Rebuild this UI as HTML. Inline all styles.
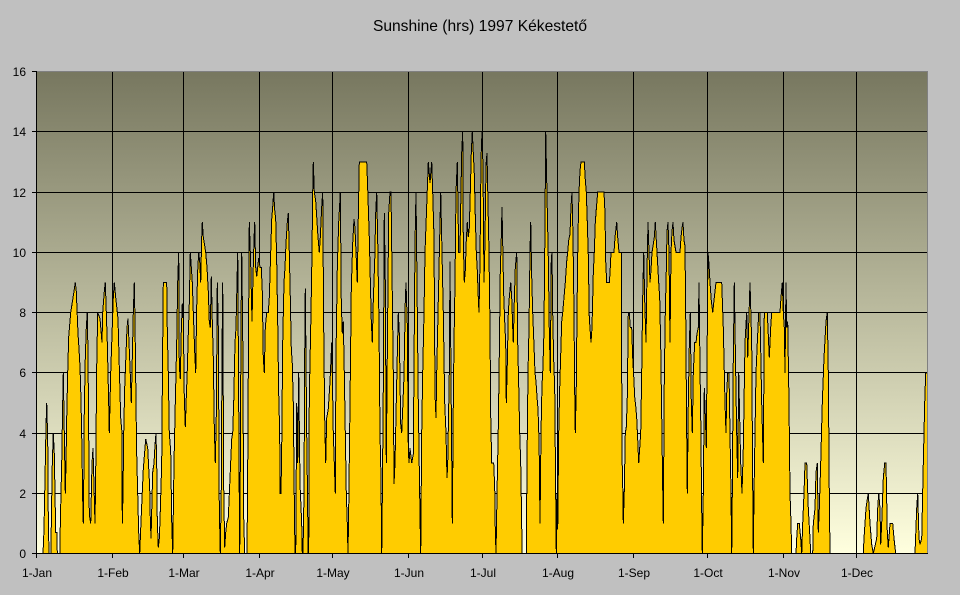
<!DOCTYPE html>
<html>
<head>
<meta charset="utf-8">
<style>
html,body{margin:0;padding:0;background:#C0C0C0;}
svg{display:block;}
text{font-family:"Liberation Sans",Arial,sans-serif;fill:#000;}
</style>
</head>
<body>
<svg width="960" height="595" viewBox="0 0 960 595" xmlns="http://www.w3.org/2000/svg">
<defs>
<linearGradient id="bg" x1="0" y1="0" x2="0" y2="1">
<stop offset="0" stop-color="#77775F"/>
<stop offset="1" stop-color="#FFFFDE"/>
</linearGradient>
<clipPath id="pc"><rect x="37" y="71" width="890.5" height="483"/></clipPath>
</defs>
<rect x="0" y="0" width="960" height="595" fill="#C0C0C0"/>
<text x="480" y="31" font-size="15.6" text-anchor="middle">Sunshine (hrs) 1997 Kékestető</text>
<rect x="37" y="71" width="890.5" height="482.5" fill="url(#bg)"/>
<g stroke="#000" stroke-width="1" shape-rendering="crispEdges">
<line x1="37" y1="131.5" x2="927" y2="131.5"/>
<line x1="37" y1="192.5" x2="927" y2="192.5"/>
<line x1="37" y1="252.5" x2="927" y2="252.5"/>
<line x1="37" y1="312.5" x2="927" y2="312.5"/>
<line x1="37" y1="372.5" x2="927" y2="372.5"/>
<line x1="37" y1="433.5" x2="927" y2="433.5"/>
<line x1="37" y1="493.5" x2="927" y2="493.5"/>
<line x1="112.5" y1="71" x2="112.5" y2="553"/>
<line x1="183.5" y1="71" x2="183.5" y2="553"/>
<line x1="259.5" y1="71" x2="259.5" y2="553"/>
<line x1="332.5" y1="71" x2="332.5" y2="553"/>
<line x1="408.5" y1="71" x2="408.5" y2="553"/>
<line x1="482.5" y1="71" x2="482.5" y2="553"/>
<line x1="557.5" y1="71" x2="557.5" y2="553"/>
<line x1="633.5" y1="71" x2="633.5" y2="553"/>
<line x1="707.5" y1="71" x2="707.5" y2="553"/>
<line x1="783.5" y1="71" x2="783.5" y2="553"/>
<line x1="856.5" y1="71" x2="856.5" y2="553"/>
</g>
<g clip-path="url(#pc)">
<g transform="matrix(1,0,0,-30.125,0,553.5)">
<path fill="#FFCC00" stroke="#000" stroke-width="1" vector-effect="non-scaling-stroke" shape-rendering="crispEdges" d="M36.7,0 L43,0 44,0.8 45,2.5 46,4.2 46.7,5 47.7,3.8 48.3,1.2 49,0 51,0 51.3,1 52.3,3 53.3,4 54.3,3.3 55.7,0.7 57,0.7 57.3,0 60,0 60.3,1 61.7,3 62.7,5 63.3,6 65.3,2 66,3 66.7,4.5 67.7,6 68.7,7.2 70.7,8 74,8.7 75.3,9 76.3,8.7 78,7.3 79,6.8 80,6.2 81,5.1 82,3.4 82.7,1.8 83.3,1 83.7,2.2 84.3,4.8 85.3,6.5 86.3,7.5 87.3,8 88,6.6 88.7,4 89.3,1.3 90.7,1 92,3 93,3.5 95,1 95.7,2.7 96.7,6.2 97.7,8 100,7.8 102,7 102.7,8 104.3,8.7 105.3,9 107.3,7 108.7,5 109.3,4 110.7,6 113.3,8.5 114.3,9 115.7,8.5 118,7.8 119.3,6.2 120.7,4.5 122,4 122.3,1 123,2 123.7,4 124.7,5.5 127,7.5 128,7.8 130,6.2 131.3,5 133.3,8 134.3,9 135,7.7 136,5 136.7,3.3 137.7,2 138.7,0.7 139.7,0 141.3,1.3 143.3,2.8 145.7,3.8 147.7,3.5 149.7,2.2 150,1.5 151,0.5 152.7,2.7 154,3 155,3.6 156,4 156.7,3 157.3,1.1 158.3,0.2 159.3,0.5 160,1.1 161.7,3 162.7,7 163.3,9 166.7,9 167.3,7.4 168.3,6 169.3,4 170.7,3.4 171.7,1.1 172.7,0 174,3 175.3,5 176.7,7 177.7,9 178.7,10 179.3,6.2 180.3,5.8 181.3,7.4 182.3,8.3 183.3,7.8 184.3,5.2 185.3,4.2 186.3,5.2 187.3,6.1 188.3,7.3 189.3,8.3 190.3,10 191.3,9.5 192.3,9 193.3,8 194.7,6.7 195.7,6 196.7,8.2 197.7,9.4 198.7,10 199.7,9.7 200.7,9 201.7,10.5 202.3,11 203.3,10.5 204.3,10.3 205.7,10 207,9.5 208.3,8.7 209.3,7.7 210.3,7.5 211.3,9.2 212.3,7.7 213.3,6.5 214.3,4.2 215.3,3 216.3,4.6 217.3,9 218.3,7.5 219.3,1.5 220.3,0 221.3,2.2 222,6.6 222.7,9 223.7,2.2 224.7,0.2 225.7,0.7 226.7,1 228.3,1.2 230,2.5 231.7,3.8 232.7,4 233.7,5 235,7 236,7.5 237,9 237.7,10 238.7,5 239.3,1.8 239.7,0 240.3,2.9 241,7.5 241.7,10 242.7,7.4 243.7,1.2 244.7,0 247,0 247.7,2.8 248.7,8.2 249.3,11 250.7,9.6 252,7.7 253,9.2 254,10.4 254.7,11 255.7,9.5 256.7,9.2 257.7,9.5 258.7,9.8 260,9.5 261.3,9.5 262.3,8.7 263.3,6.5 264.3,6 265.3,7.5 266.7,8 268.3,8 269.3,8.5 270.7,10 271.7,11.1 272.7,11.5 273.7,12 274.7,11.4 275.7,11.1 276.7,9.7 277.7,7.7 278.7,5.3 279.7,4 280,2 281,2 281.7,3.5 282.7,7 284,9 285,9.5 286,10.3 287.3,11 288.3,11.3 289.3,10 290.3,8.5 291.3,6.8 292.3,6.3 293.3,5 294.3,1.8 295,0 295.7,0 296.7,5 297.7,3 298.7,6 300,2.3 301.7,1 302.3,0 303,0 304,2 304.7,6.6 305.3,8.8 306.7,4 307.7,1.5 308,0 308.7,0 309.3,5.2 311,8 312,10 312.7,12 313.3,13 314.3,12 315.7,11.7 318,10.5 319.3,10 320.3,10.5 321.7,11.5 322.7,12 323.7,7.5 324.7,4.5 325.7,3 326.7,4.5 328.3,4.8 330,5.7 331.7,7 332.7,5.2 333.3,4 334.3,3 335.3,2 336,6.6 337.3,9.5 338.7,11 339.7,11.6 340.3,12 341.3,8.3 342.3,7.3 343.3,7.7 344.3,6 345.3,4 346.3,2 347.3,1 348,0 348.7,1.5 350,5 351.3,8.8 352.7,10.3 354,11.1 355,10.8 356,10 357.3,9 358.3,11.2 359.3,13 366.7,13 367.3,12.5 368.3,11.5 369.3,10.5 370.3,9.1 371.3,7.7 372.3,7 373.3,8.4 374.7,9.7 375.7,11.3 376.7,12 377.7,10.4 379,7.6 380,4 381,2.5 381.7,0 382.3,1.8 383.3,5.5 384.3,11.3 385.3,9 386.3,3 387.3,6.6 388.7,11.3 390,12 391,12 392,9.4 393.3,6 394,2.3 395,3 396,4.6 397.3,6.6 398.3,8 399.3,7.3 400.7,4.3 401.7,4 402.7,4.8 404,5.9 405.3,8.4 406,9 407.3,7.6 408.3,3.5 409,3 410,3.5 411.7,3 413.3,3.3 415,10.3 416,12 418.3,5 420,1.3 420.7,0 421.7,4 422.7,6 424,8 425,10 428.3,13 430,12.3 431.7,13 432.7,12 434,10.5 435,5.3 436,4.5 436.7,6 438.7,9 440.7,12 442,10 443.3,8 444.7,5 446,4 447,2.5 447.7,3 449.3,6 450,9.7 452.3,1 453.3,5 454,7 455,9 456,12 457.3,13 458.7,10 460,10 460.7,11.5 461.7,13.3 462.7,14 463.3,10.4 464.3,9 465.3,9.4 466.3,10.4 467.3,11 468.3,10.5 469.3,10.8 470.3,12 471.3,13.3 472.3,14 473.3,13.3 474.3,12.6 475.3,11.2 476.3,10 477.3,9.4 478.3,8.5 479,8 480,9.7 481,13.1 482,14 483,12.8 484,9 485,10.4 486,12.9 487,13.3 488,11.6 489,10 490,7.5 490.7,4.6 491.7,3 493.7,3 494.7,2.2 495.3,0.8 496,0 497.3,2.5 498.3,4.2 499.3,6.6 500.3,9.4 501.3,10.5 502,11.5 502.7,10.3 503.7,8.6 504.7,7.7 505.7,7 506.3,5 507.3,6.3 508.3,8 509.3,8.5 510.7,9 511.7,8.5 512.7,7.5 513.3,7 514.3,8.4 515.3,9.5 516.7,10 517.7,7 518.7,5.6 519.7,4 520.7,3 521.7,1 522,0 526.3,0 527,3 528,6 529,7.5 530,10 530.7,11 531.7,9.2 532.7,8 534,6.9 535,6 536,5.7 537,5.2 538,4.8 538.7,4.1 539.3,3.2 540,1 541,4 542,5.6 542.7,6 543.7,7 544.3,8.5 545,11 545.7,14 546.7,12.4 547.3,11.4 548.3,9.8 549.3,7.4 550.3,6 551.3,9.8 552,10 552.7,8 553.7,6.4 554.7,5.5 555.7,2 556.3,0 557,2 557.7,0.8 558.7,4 559.7,5.5 560.7,6.6 561.7,7.7 562.7,8 564,8.5 565.3,9 566.7,9.7 567.7,10 568.7,10.4 570,10.6 571,11.5 572,12 573,10.5 574,8 574.7,5.4 575.3,4 576.3,5.6 577,8 578,10.6 579,12 580,12.7 581,13 584.3,13 585.3,12.4 586.3,12 587.3,11 588.3,9.9 589.3,7.8 590,7.5 591,7 592,7.5 593.3,9.3 594.3,10 595.3,11 596.7,11.6 597.7,12 604,12 605,11.3 605.7,9.7 606.7,9 609.3,9 610,9.3 611,10 614,10 615,10.5 616,10.8 616.7,11 617.7,10.5 619,10 621.3,10 622,3.3 623,1.8 623.3,1 624.3,2.1 625.3,4 626.3,4.2 627.3,5.2 628.3,8 629.3,8 630.3,7.5 631.7,7.5 632.7,6.5 633.7,5.9 634.7,5.2 635.7,4.9 636.7,4.5 637.7,3.8 638.7,3 639.7,3.5 640.7,4 641.7,6 642.7,8.5 643.7,10 644.7,8.4 646,7 647,9.4 648,11 649,10 650,9 651,9.4 652,10 653,10.2 654.3,10.5 655.3,11 656.3,10.4 657.7,9.6 658.7,9 659.7,8.5 660.7,6.9 661.7,4.6 662.7,2.2 663.3,1 664.3,5.8 665.3,8 666.3,9.4 667,10.7 668,11 669,10 670,7 671,10 672,10.7 673,11 674,10.4 675,10.2 676,10 680,10 681,10.5 682,10.8 683,11 684,10.4 685,10.2 685.7,8 686.7,4 687.3,2 688.3,5 689.3,6.9 690.3,8 691.3,5 692.3,4 693.3,6 694.7,7 696,7 697,7.3 698.3,7.5 699,9 700,6.2 700.7,4.6 701.7,1.5 702.3,0 703.3,2 704.3,5.5 705.3,4.6 706.3,3.5 707.3,7.4 708,10 709,9.6 710,9 711.3,8.4 712.7,8 714,8.4 715,8.7 716,9 721.7,9 723.3,7.5 725,5 726,4 726.7,5.3 727.7,6 729,6 730,4 731,2 731.7,0 732.3,2 733.3,6.5 734.3,9 735.7,6 736.7,4 737.7,2.5 738.7,6 740,4 740.7,3 742,2 743.3,3.5 745,7 746.7,8 747.7,6.5 750,9 751.7,7 752.7,2.3 753.3,0 754,2 755,4 756,6 757.3,7 758.7,8 760,8 761.7,5 763.3,3 764.3,8 767.3,8 769.3,6.5 770.7,7.5 771.7,8 780,8 781,8.5 782.3,9 783.3,8 784.3,7.5 785,6 786,9 786.7,7.5 787.7,7.7 789,5 790,2 791,1 791.7,0 796,0 796.7,0.5 797.7,1 799.3,1 800.7,0.5 801.7,0 802.7,1 804,2 805,3 806.7,3 808.3,1.5 810,0.5 810.7,0 812.7,0 813.3,1 815,1.5 816,2.7 817.3,3 818.3,0.7 819.3,1.5 820.7,3 822.3,5 824,6.5 826,7.7 827.3,8 828.3,6 829.3,2 830,0 863.3,0 864,0.5 866,1.5 867.3,1.8 868.3,2 870,1 871.7,0.3 873.3,0 876.7,0.5 877.7,1.5 878.7,2 880,1.5 880.7,0.3 881.7,1 883.3,2.5 884.7,3 886,3 887.3,0.7 888.3,0.2 890,1 892.7,1 894,0.5 895,0.2 895.7,0 915,0 916.7,1.5 917.7,2 919,0.5 920,0.3 921.7,0.5 923.3,3 924.7,5 925.7,6 927.5,6 927.5,0 Z"/>
</g>
</g>
<g stroke="#808080" stroke-width="1" shape-rendering="crispEdges">
<line x1="37" y1="71.5" x2="928" y2="71.5"/>
<line x1="927.5" y1="71" x2="927.5" y2="553"/>
</g>
<g stroke="#000" stroke-width="1" shape-rendering="crispEdges">
<line x1="36.5" y1="71" x2="36.5" y2="554"/>
<line x1="32" y1="553.5" x2="928" y2="553.5"/>
<line x1="32" y1="71.5" x2="37" y2="71.5"/>
<line x1="32" y1="131.5" x2="37" y2="131.5"/>
<line x1="32" y1="192.5" x2="37" y2="192.5"/>
<line x1="32" y1="252.5" x2="37" y2="252.5"/>
<line x1="32" y1="312.5" x2="37" y2="312.5"/>
<line x1="32" y1="372.5" x2="37" y2="372.5"/>
<line x1="32" y1="433.5" x2="37" y2="433.5"/>
<line x1="32" y1="493.5" x2="37" y2="493.5"/>
<line x1="36.5" y1="553" x2="36.5" y2="558"/>
<line x1="112.5" y1="553" x2="112.5" y2="558"/>
<line x1="183.5" y1="553" x2="183.5" y2="558"/>
<line x1="259.5" y1="553" x2="259.5" y2="558"/>
<line x1="332.5" y1="553" x2="332.5" y2="558"/>
<line x1="408.5" y1="553" x2="408.5" y2="558"/>
<line x1="482.5" y1="553" x2="482.5" y2="558"/>
<line x1="557.5" y1="553" x2="557.5" y2="558"/>
<line x1="633.5" y1="553" x2="633.5" y2="558"/>
<line x1="707.5" y1="553" x2="707.5" y2="558"/>
<line x1="783.5" y1="553" x2="783.5" y2="558"/>
<line x1="856.5" y1="553" x2="856.5" y2="558"/>
</g>
<g font-size="12" text-anchor="end">
<text x="26" y="76">16</text>
<text x="26" y="136">14</text>
<text x="26" y="197">12</text>
<text x="26" y="257">10</text>
<text x="26" y="317">8</text>
<text x="26" y="377">6</text>
<text x="26" y="438">4</text>
<text x="26" y="498">2</text>
<text x="26" y="558">0</text>
</g>
<g font-size="12" text-anchor="middle">
<text x="37" y="577">1-Jan</text>
<text x="113" y="577">1-Feb</text>
<text x="184" y="577">1-Mar</text>
<text x="260" y="577">1-Apr</text>
<text x="333" y="577">1-May</text>
<text x="409" y="577">1-Jun</text>
<text x="483" y="577">1-Jul</text>
<text x="558" y="577">1-Aug</text>
<text x="634" y="577">1-Sep</text>
<text x="708" y="577">1-Oct</text>
<text x="784" y="577">1-Nov</text>
<text x="857" y="577">1-Dec</text>
</g>
</svg>
</body>
</html>
